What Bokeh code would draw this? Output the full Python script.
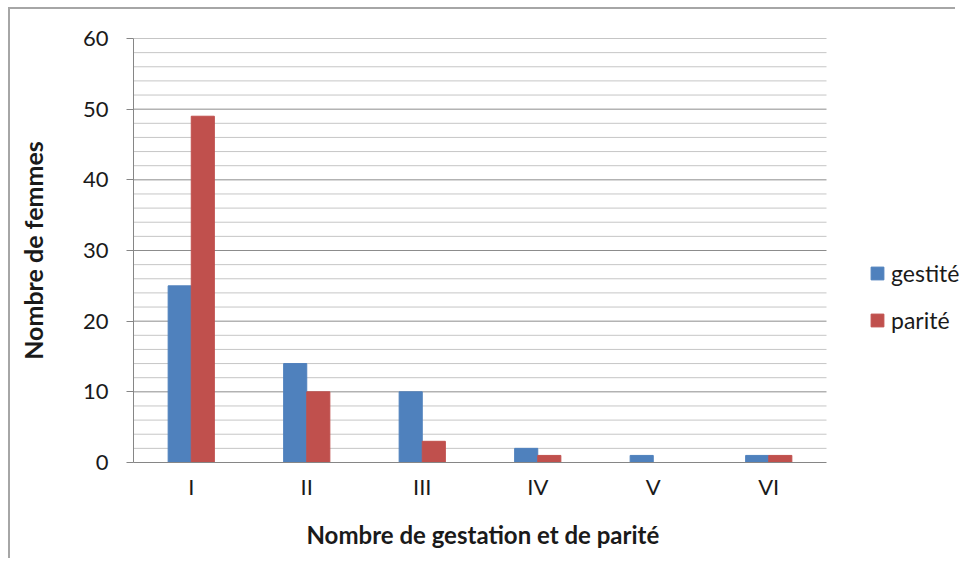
from bokeh.plotting import figure
from bokeh.models import ColumnDataSource, Range1d, Legend, LegendItem, FixedTicker, Title
from bokeh.embed import file_html
from bokeh.resources import INLINE

categories = ["I", "II", "III", "IV", "V", "VI"]
gestite = [25, 14, 10, 2, 1, 1]
parite = [49, 10, 3, 1, 0, 1]
y_ticks = [0, 10, 20, 30, 40, 50, 60]
y_minor = [2, 4, 6, 8, 12, 14, 16, 18, 22, 24, 26, 28, 32, 34, 36, 38,
           42, 44, 46, 48, 52, 54, 56, 58]

n = len(categories)
centers = [i + 0.5 for i in range(n)]
src = ColumnDataSource(dict(
    xg=[c - 0.1 for c in centers], xp=[c + 0.1 for c in centers],
    gestite=gestite, parite=parite))

FONT = "Lato"
TXT = "#1a1a1a"

# layout constants (pixels)
LEFT, TOP, BOTTOM = 125, 31, 103
PLOT_W = 693          # width of the category area
W, H = 955, 558
FRAME_W = W - LEFT    # frame extends to the right edge; legend lives inside it

p = figure(x_range=Range1d(0, n * FRAME_W / PLOT_W), y_range=Range1d(0, 60),
           width=W, height=H, output_backend="svg", toolbar_location=None,
           min_border_left=LEFT, min_border_right=0, min_border_top=TOP,
           min_border_bottom=BOTTOM)
p.styles = {"border-left": "8px solid white", "border-top": "7px solid white",
            "box-shadow": "inset 2px 2px 0 0 #a6a6a6"}
p.border_fill_alpha = 0
p.outline_line_color = None
p.background_fill_alpha = 0
p.grid.visible = False

# gridlines restricted to the category area
p.segment(x0=0, x1=n, y0=y_minor, y1=y_minor, line_color="#c6c6c6", line_width=1)
p.segment(x0=0, x1=n, y0=y_ticks[1:], y1=y_ticks[1:], line_color="#8c8c8c", line_width=1)

r1 = p.vbar(x="xg", top="gestite", width=0.2, source=src,
            fill_color="#4F81BD", line_color="#4F81BD")
r2 = p.vbar(x="xp", top="parite", width=0.2, source=src,
            fill_color="#C0504D", line_color="#C0504D")

p.yaxis.ticker = FixedTicker(ticks=y_ticks)
p.yaxis.axis_line_color = "#868686"
p.yaxis.major_tick_line_color = "#868686"
p.yaxis.major_tick_out = 7
p.yaxis.major_tick_in = 0
p.yaxis.minor_tick_line_color = None
p.yaxis.major_label_standoff = 18
p.yaxis.major_label_text_font = FONT
p.yaxis.major_label_text_font_size = "22px"
p.yaxis.major_label_text_color = TXT
p.yaxis.axis_label = "Nombre de femmes"
p.yaxis.axis_label_text_font = FONT
p.yaxis.axis_label_text_font_size = "25px"
p.yaxis.axis_label_text_font_style = "bold"
p.yaxis.axis_label_text_color = TXT
p.yaxis.axis_label_standoff = 32

p.xaxis.ticker = FixedTicker(ticks=centers)
p.xaxis.major_label_overrides = {c: lab for c, lab in zip(centers, categories)}
p.xaxis.bounds = (0, n)
p.xaxis.axis_line_color = "#868686"
p.xaxis.major_tick_line_color = None
p.xaxis.major_tick_out = 0
p.xaxis.major_tick_in = 0
p.xaxis.minor_tick_line_color = None
p.xaxis.major_label_standoff = 10
p.xaxis.major_label_text_font = FONT
p.xaxis.major_label_text_font_size = "22px"
p.xaxis.major_label_text_color = TXT

# x-axis title, centred under the category area
xtitle = Title(text="Nombre de gestation et de parité", align="left", offset=173,
               standoff=30, text_font=FONT, text_font_size="24px",
               text_font_style="bold", text_color=TXT)
p.add_layout(xtitle, "below")

legend = Legend(items=[LegendItem(label="gestité", renderers=[r1]),
                       LegendItem(label="parité", renderers=[r2])],
                location=(736, 128), orientation="vertical",
                glyph_width=16, glyph_height=16, label_standoff=6, spacing=19,
                padding=0, margin=0, border_line_color=None, background_fill_alpha=0,
                label_text_font=FONT, label_text_font_size="23px", label_text_color=TXT)
p.add_layout(legend, "center")

open("out.html", "w").write(file_html(p, INLINE))
